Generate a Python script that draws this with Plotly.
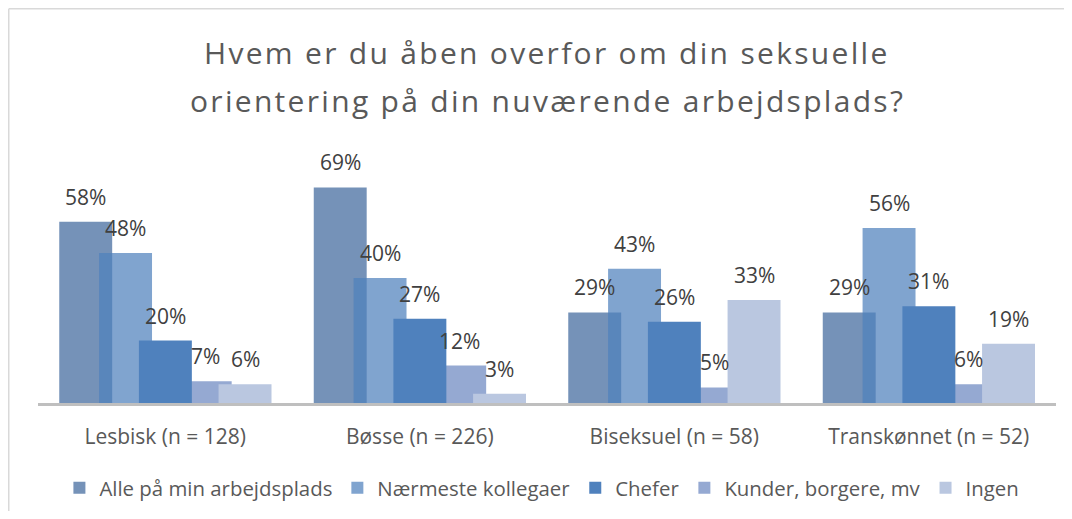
import plotly.graph_objects as go

categories = ["Lesbisk (n = 128)", "Bøsse (n = 226)", "Biseksuel (n = 58)", "Transkønnet (n = 52)"]
series_names = ["Alle på min arbejdsplads", "Nærmeste kollegaer", "Chefer", "Kunder, borgere, mv", "Ingen"]
alle = [58, 69, 29, 29]
naermeste = [48, 40, 43, 56]
chefer = [20, 27, 26, 31]
kunder = [7, 12, 5, 6]
ingen = [6, 3, 33, 19]
title_lines = ["Hvem er du åben overfor om din seksuelle", "orientering på din nuværende arbejdsplads?"]

values = [alle, naermeste, chefer, kunder, ingen]
colors = ["#7592B8", "rgba(79,129,189,0.72)", "#4F81BD", "#95A9D2", "#BAC7E0"]
draw_order = [0, 1, 3, 2, 4]

bar_w = 0.208
step = 0.1565
first = -0.4165

# page body has an 8px margin; figure sized so page == 1072x519
W, H = 1056, 503
L, R, T, B = 30, 8, 145, 108
PH = H - T - B  # plot height in px
PW = W - L - R

FONT = "Open Sans"
fig = go.Figure()
for k in draw_order:
    off = first + k * step
    fig.add_trace(go.Bar(
        x=categories, y=values[k], name=series_names[k],
        marker=dict(color=colors[k], line=dict(width=0)),
        width=bar_w, offset=off, legendrank=k + 1,
        hoverinfo="skip",
    ))

annotations = []
for k in range(5):
    off = first + k * step + bar_w / 2
    for i, v in enumerate(values[k]):
        annotations.append(dict(
            x=i + off, y=v, xref="x", yref="y", text=f"{v}%", showarrow=False,
            yshift=25, yanchor="middle", xanchor="center",
            font=dict(family=FONT, size=21, color="#404040"),
        ))

base = H - B
for j, (line, ypx) in enumerate(zip(title_lines, [44, 92])):
    annotations.append(dict(
        x=0.5, y=(base - ypx) / PH, xref="paper", yref="paper",
        text=f'<span style="letter-spacing:2.3px">{line}</span>', showarrow=False,
        xanchor="center", yanchor="middle",
        font=dict(family=FONT, size=30, color="#595959"),
    ))

frame = dict(color="#D9D9D9", width=1.5)
fig.update_layout(
    barmode="overlay",
    width=W, height=H,
    margin=dict(l=L, r=R, t=T, b=B, autoexpand=False),
    plot_bgcolor="white", paper_bgcolor="white",
    showlegend=True,
    legend=dict(orientation="h", x=0.495, xanchor="center", y=(base - 480) / PH, yanchor="middle",
                font=dict(family=FONT, size=20.4, color="#595959"), itemwidth=30,
                traceorder="normal"),
    annotations=annotations,
    shapes=[
        dict(type="line", xref="paper", yref="paper",
             x0=(0.75 - L) / PW, x1=(W - L) / PW, y0=(base - 0.75) / PH, y1=(base - 0.75) / PH,
             line=frame, layer="below"),
        dict(type="line", xref="paper", yref="paper",
             x0=(0.75 - L) / PW, x1=(0.75 - L) / PW, y0=(base - 0.75) / PH, y1=(base - H) / PH,
             line=frame, layer="below"),
    ],
)
fig.update_xaxes(showline=True, linecolor="#BFBFBF", linewidth=2.5, ticks="",
                 tickfont=dict(family=FONT, size=21, color="#595959"),
                 ticklabelstandoff=13, showgrid=False, automargin=False,
                 range=[-0.5, 3.5], autorange=False)
fig.update_yaxes(range=[0, 80], visible=False, showgrid=False, zeroline=False, automargin=False)

fig.write_html("out.html")
